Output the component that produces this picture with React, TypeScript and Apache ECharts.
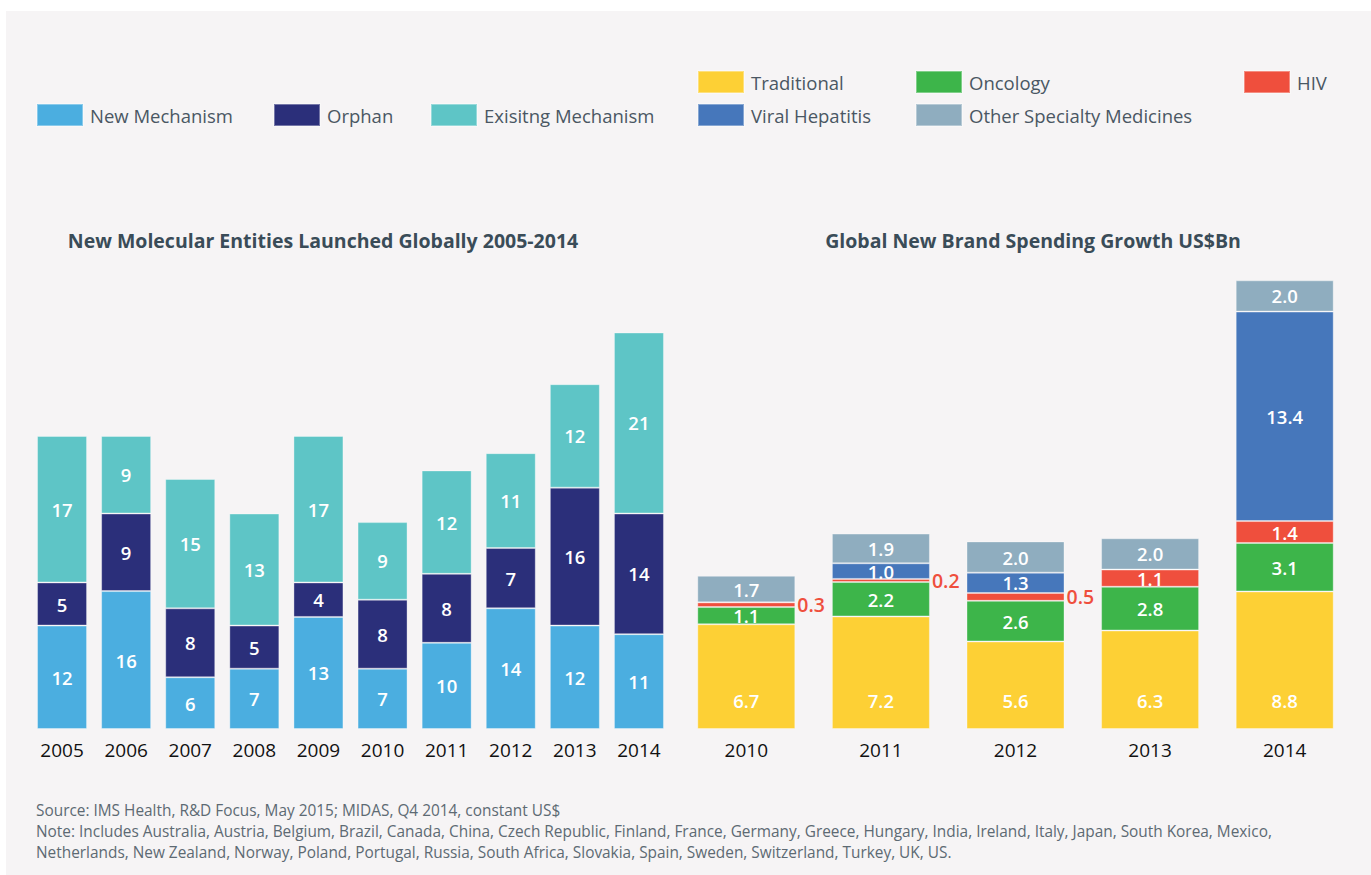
import React, { useEffect, useRef } from "react";
import * as echarts from "echarts";

const leftYears = ["2005", "2006", "2007", "2008", "2009", "2010", "2011", "2012", "2013", "2014"];
const newMechanism = [12, 16, 6, 7, 13, 7, 10, 14, 12, 11];
const orphan = [5, 9, 8, 5, 4, 8, 8, 7, 16, 14];
const existingMechanism = [17, 9, 15, 13, 17, 9, 12, 11, 12, 21];

const rightYears = ["2010", "2011", "2012", "2013", "2014"];
const traditional = [6.7, 7.2, 5.6, 6.3, 8.8];
const oncology = [1.1, 2.2, 2.6, 2.8, 3.1];
const hiv = [0.3, 0.2, 0.5, 1.1, 1.4];
const viralHepatitis = [0, 1.0, 1.3, 0, 13.4];
const otherSpecialty = [1.7, 1.9, 2.0, 2.0, 2.0];

const leftTitle = "New Molecular Entities Launched Globally 2005-2014";
const rightTitle = "Global New Brand Spending Growth US$Bn";
const footerLines = [
  "Source: IMS Health, R&D Focus, May 2015; MIDAS, Q4 2014, constant US$",
  "Note: Includes Australia, Austria, Belgium, Brazil, Canada, China, Czech Republic, Finland, France, Germany, Greece, Hungary, India, Ireland, Italy, Japan, South Korea, Mexico,",
  "Netherlands, New Zealand, Norway, Poland, Portugal, Russia, South Africa, Slovakia, Spain, Sweden, Switzerland, Turkey, UK, US.",
];

const FONT = "'Open Sans', 'Noto Sans', sans-serif";

const C = {
  newMech: "#4baee0",
  orphan: "#2b2f7a",
  existing: "#5ec5c6",
  traditional: "#fdd035",
  oncology: "#3db54a",
  hiv: "#ef4f3d",
  viral: "#4677bb",
  other: "#8fadbf",
};

export default function App() {
  const ref = useRef<HTMLDivElement>(null);
  useEffect(() => {
    document.body.style.margin = "0";
    const chart = echarts.init(ref.current!, undefined, { renderer: "svg" });

    const insideLabel = {
      show: true,
      position: "inside",
      color: "#ffffff",
      fontSize: 18.5,
      fontWeight: 600,
      fontFamily: FONT,
      formatter: (p: any) => (p.value === 0 ? "" : String(p.value)),
    };
    const insideLabelFixed = {
      ...insideLabel,
      formatter: (p: any) => (p.value === 0 ? "" : Number(p.value).toFixed(1)),
    };
    const border = { borderColor: "rgba(255,255,255,0.35)", borderWidth: 1 };

    const leftSeries = (name: string, data: number[], color: string) => ({
      name,
      type: "bar",
      stack: "left",
      xAxisIndex: 0,
      yAxisIndex: 0,
      barWidth: 50,
      data,
      itemStyle: { color, ...border },
      label: insideLabel,
    });
    const rightSeries = (name: string, data: any[], color: string, label: any = insideLabelFixed) => ({
      name,
      type: "bar",
      stack: "right",
      xAxisIndex: 1,
      yAxisIndex: 1,
      barWidth: 98,
      data,
      itemStyle: { color, ...border },
      label,
    });

    const hivData = hiv.map((v) =>
      v < 1
        ? {
            value: v,
            label: {
              show: true,
              position: "right",
              distance: 2,
              color: C.hiv,
              fontSize: 19.5,
              fontWeight: 600,
              fontFamily: FONT,
              formatter: (p: any) => Number(p.value).toFixed(1),
            },
          }
        : v
    );

    const legendItem = (name: string, left: number, top: number) => ({
      left,
      top,
      padding: 0,
      itemWidth: 46,
      itemHeight: 22,
      icon: "rect",
      selectedMode: false,
      data: [name],
      textStyle: { fontSize: 18.5, color: "#4a5763", fontFamily: FONT, padding: [0, 0, 0, 2] },
    });

    const axisLabel = { fontSize: 19, color: "#111111", fontWeight: 500, fontFamily: FONT, margin: 11 };

    chart.setOption({
      animation: false,
      backgroundColor: "#ffffff",
      textStyle: { fontFamily: FONT },
      legend: [
        legendItem("New Mechanism", 36, 103),
        legendItem("Orphan", 273, 103),
        legendItem("Exisitng Mechanism", 430, 103),
        legendItem("Traditional", 697, 70),
        legendItem("Oncology", 915, 70),
        legendItem("HIV", 1243, 70),
        legendItem("Viral Hepatitis", 697, 103),
        legendItem("Other Specialty Medicines", 915, 103),
      ],
      graphic: [
        {
          type: "rect",
          z: -10,
          silent: true,
          shape: { x: 6, y: 11, width: 1371, height: 875 },
          style: { fill: "#f6f4f5" },
        },
        {
          type: "text",
          x: 323,
          y: 240,
          style: {
            text: leftTitle,
            fontSize: 19.5,
            fontWeight: 700,
            fill: "#3a4c58",
            fontFamily: FONT,
            align: "center",
            verticalAlign: "middle",
          },
        },
        {
          type: "text",
          x: 1033,
          y: 240,
          style: {
            text: rightTitle,
            fontSize: 19.5,
            fontWeight: 700,
            fill: "#3a4c58",
            fontFamily: FONT,
            align: "center",
            verticalAlign: "middle",
          },
        },
        {
          type: "text",
          x: 36,
          y: 800,
          style: {
            text: footerLines.join("\n"),
            fontSize: 15.4,
            lineHeight: 21,
            fill: "#5d6a73",
            fontFamily: FONT,
          },
        },
      ],
      grid: [
        { left: 30, width: 641, top: 298, height: 431 },
        { left: 679, width: 673, top: 260, height: 469 },
      ],
      xAxis: [
        {
          type: "category",
          gridIndex: 0,
          data: leftYears,
          axisLine: { show: false },
          axisTick: { show: false },
          axisLabel,
        },
        {
          type: "category",
          gridIndex: 1,
          data: rightYears,
          axisLine: { show: false },
          axisTick: { show: false },
          axisLabel,
        },
      ],
      yAxis: [
        { type: "value", gridIndex: 0, min: 0, max: 50, show: false, splitLine: { show: false } },
        { type: "value", gridIndex: 1, min: 0, max: 30, show: false, splitLine: { show: false } },
      ],
      series: [
        leftSeries("New Mechanism", newMechanism, C.newMech),
        leftSeries("Orphan", orphan, C.orphan),
        leftSeries("Exisitng Mechanism", existingMechanism, C.existing),
        rightSeries("Traditional", traditional, C.traditional, {
          ...insideLabelFixed,
          position: "insideBottom",
          distance: 19,
        }),
        rightSeries("Oncology", oncology, C.oncology),
        rightSeries("HIV", hivData, C.hiv),
        rightSeries("Viral Hepatitis", viralHepatitis, C.viral),
        rightSeries("Other Specialty Medicines", otherSpecialty, C.other),
      ],
    });
    return () => chart.dispose();
  }, []);
  return <div ref={ref} style={{ width: 1371, height: 875 }} />;
}
